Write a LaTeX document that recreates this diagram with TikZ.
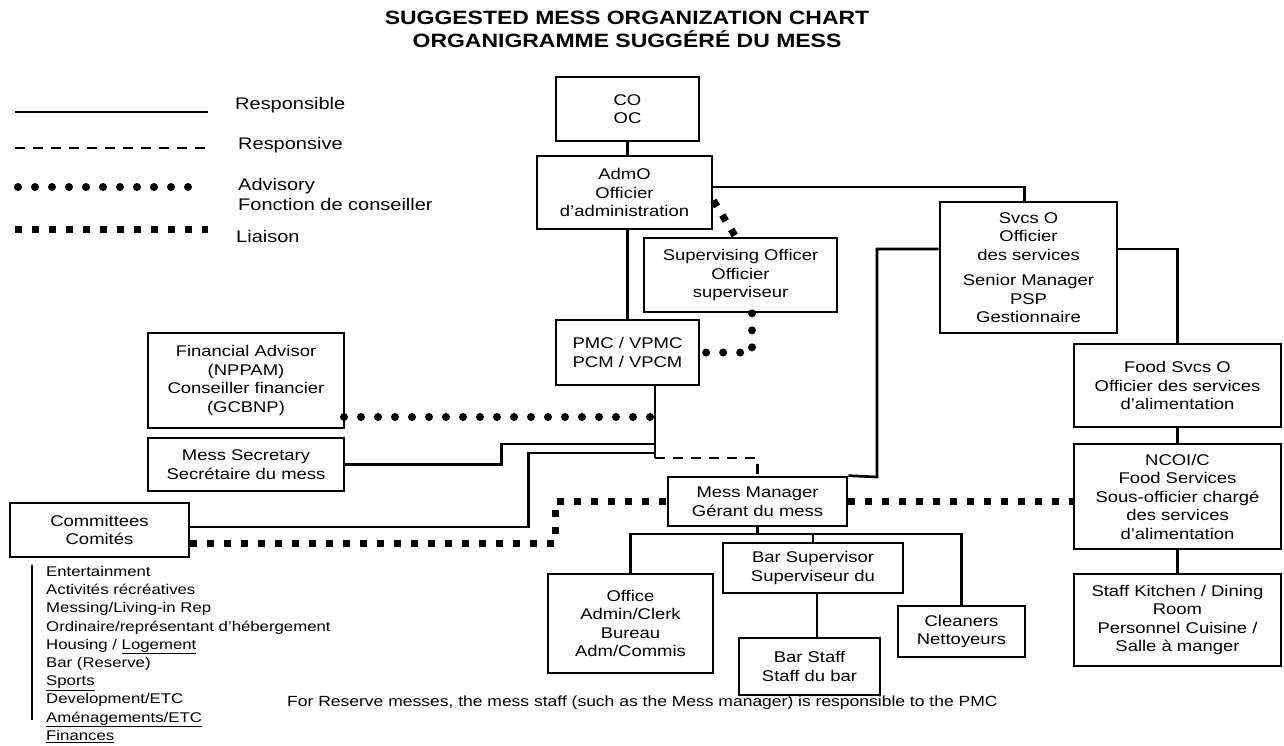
\documentclass[tikz,border=0pt]{standalone}
\usepackage{fontspec}
\setmainfont{Liberation Sans}[FakeStretch=1.19]
\usetikzlibrary{calc}
\newcommand\bxfont{\fontsize{15.5}{18.5}\selectfont}
\newcommand\lgfont{\fontsize{16.8}{20}\selectfont}
\newcommand\lsfont{\fontsize{14.1}{18.2}\selectfont}
\tikzset{
  box/.style={draw, line width=2.7pt, inner sep=0pt, align=center, font=\bxfont},
  resp/.style={line width=2.7pt},
  respv/.style={line width=2.4pt, dash pattern=on 10pt off 8pt},
  advisory/.style={line width=8pt, line cap=round, dash pattern=on 0pt off 17pt},
  liaison/.style={line width=7pt, dash pattern=on 7pt off 10pt},
  lgtext/.style={anchor=west, inner sep=0pt, align=left, font=\lgfont},
}
\begin{document}
\begin{tikzpicture}[x=1pt,y=-1pt]
\fill[white] (0,0) rectangle (1284,745);
\useasboundingbox (0,0) rectangle (1284,745);

% title
\node[font=\fontsize{19.3}{23}\selectfont\bfseries, align=center, inner sep=0pt] (title) at (627,29)
  {SUGGESTED MESS ORGANIZATION CHART\\ORGANIGRAMME SUGGÉRÉ DU MESS};

% legend
\coordinate (l1a) at (15,112); \coordinate (l1b) at (208,112);
\coordinate (l2a) at (15,148); \coordinate (l2b) at (208,148);
\coordinate (l3a) at (18,187); \coordinate (l3b) at (204,187);
\coordinate (l4a) at (15,229); \coordinate (l4b) at (208,229);
\draw[resp] (l1a) -- (l1b);
\draw[respv] (l2a) -- (l2b);
\draw[advisory] (l3a) -- (l3b);
\draw[liaison] (l4a) -- (l4b);
\node[lgtext] (t1) at (235,105) {Responsible};
\node[lgtext] (t2) at (238,145) {Responsive};
\node[lgtext] (t3) at (238,194) {Advisory\\Fonction de conseiller};
\node[lgtext] (t4) at (236,236) {Liaison};

% boxes
\node[box, minimum width=143pt, minimum height=64pt] (co) at (627.5,109) {CO\\OC};
\node[box, minimum width=175pt, minimum height=73pt] (adm) at (624.5,192.5) {AdmO\\Officier\\d'administration};
\node[box, minimum width=193pt, minimum height=74pt] (sup) at (740.5,275) {Supervising Officer\\Officier\\superviseur};
\node[box, minimum width=143pt, minimum height=65pt] (pmc) at (627.5,352.5) {PMC / VPMC\\PCM / VPCM};
\node[box, minimum width=177pt, minimum height=131pt] (svcs) at (1028.5,267.5) {Svcs O\\Officier\\des services\\[7pt]Senior Manager\\PSP\\Gestionnaire};
\node[box, minimum width=207pt, minimum height=83pt] (food) at (1177.5,385.5) {Food Svcs O\\Officier des services\\d'alimentation};
\node[box, minimum width=207pt, minimum height=105pt] (nco) at (1177.5,496.5) {NCOI/C\\Food Services\\Sous-officier chargé\\des services\\d'alimentation};
\node[box, minimum width=207pt, minimum height=92pt] (kit) at (1177.5,620) {Staff Kitchen / Dining\\Room\\Personnel Cuisine /\\Salle à manger};
\node[box, minimum width=196pt, minimum height=95pt] (fin) at (246,380.5) {Financial Advisor\\(NPPAM)\\Conseiller financier\\(GCBNP)};
\node[box, minimum width=196pt, minimum height=53pt] (sec) at (246,464.5) {Mess Secretary\\Secrétaire du mess};
\node[box, minimum width=179pt, minimum height=54pt] (com) at (99.5,530) {Committees\\Comités};
\node[box, minimum width=179pt, minimum height=49pt] (mm) at (757.5,501.5) {Mess Manager\\Gérant du mess};
\node[box, minimum width=165pt, minimum height=99pt] (office) at (630.5,623.5) {Office\\Admin/Clerk\\Bureau\\Adm/Commis};
\node[box, minimum width=180pt, minimum height=50pt] (barsup) at (813,568) {Bar Supervisor\\Superviseur du};
\node[box, minimum width=141pt, minimum height=57pt] (barstaff) at (809.5,666.5) {Bar Staff\\Staff du bar};
\node[box, minimum width=127pt, minimum height=51pt] (clean) at (961.5,631.5) {Cleaners\\Nettoyeurs};

% junction coordinates
\coordinate (j2) at (655,458);
\coordinate (j3) at (655,444);
\coordinate (j4) at (655,453);
\coordinate (jf) at (344,417);
\coordinate (j1) at (877,477);
\coordinate (j5) at (757.5,534);

% responsible lines
\draw[resp] (co.south) -- (co.south |- adm.north);
\draw[resp] (pmc.north |- adm.south) -- (pmc.north);
\draw[resp] ([yshift=5.5pt]adm.east) -| ([xshift=-4pt]svcs.north);
\draw[resp] ([yshift=18.5pt]svcs.west) -| (j1) -- (mm.north east);
\draw[resp] ([yshift=18.5pt]svcs.east) -| (food.north);
\draw[resp] (food.south) -- (nco.north);
\draw[resp] (nco.south) -- (kit.north);
\draw[resp] ([xshift=27.5pt]pmc.south) -- (j2);
\draw[resp] (sec.east) -- ++(156,0) |- (j3);
\draw[resp] ([yshift=3pt]com.east) -- ++(338,0) |- (j4);
\draw[resp] (mm.south) -- (j5);
\draw[resp] (office.north) -- (office.north |- j5) -- (clean.north |- j5) -- (clean.north);
\draw[resp] (barsup.north) -- (barsup.north |- j5);
\draw[resp] ([xshift=4pt]barsup.south) -- ([xshift=4pt]barsup.south |- barstaff.north);

% responsive
\draw[respv] (j2) -| (mm.north);

% advisory
\draw[advisory] (jf) -- (jf -| j2);
\draw[advisory] ([xshift=11.5pt]sup.south) |- (pmc.east);

% liaison
\draw[liaison] ([yshift=-8pt]adm.east) -- ([xshift=-5pt]sup.north);
\draw[liaison] ([yshift=-13pt]com.east) -- ++(365,0) |- (mm.west);
\draw[liaison] (mm.east) -- (mm.east -| nco.west);

% committees list
\coordinate (la) at (32,565); \coordinate (lb) at (32,720);
\draw[line width=1.6pt] (la) -- (lb);
\node[anchor=north west, inner sep=0pt, align=left, font=\lsfont] (list) at (46,566)
  {Entertainment\\Activités récréatives\\Messing/Living-in Rep\\Ordinaire/représentant d'hébergement\\Housing / \underline{Logement}\\Bar (Reserve)\\\underline{Sports}\\Development/ETC\\\underline{Aménagements/ETC}\\\underline{Finances}};

% footer
\node[anchor=west, inner sep=0pt, font=\fontsize{14.7}{18}\selectfont] (foot) at (287,703)
  {For Reserve messes, the mess staff (such as the Mess manager) is responsible to the PMC};
\end{tikzpicture}
\end{document}
